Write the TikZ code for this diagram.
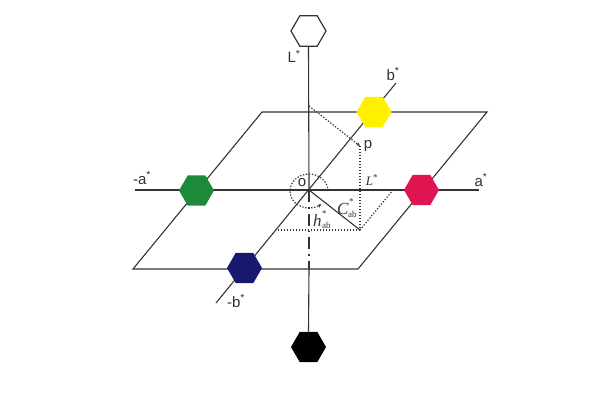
\documentclass[tikz,border=0pt]{standalone}
\usepackage{fontspec}
\setmainfont{Liberation Serif}
\setsansfont{Liberation Sans}
\usetikzlibrary{shapes.geometric,arrows.meta,calc}
\definecolor{hgreen}{HTML}{1C8A3A}
\definecolor{hred}{HTML}{DE1550}
\definecolor{hyellow}{HTML}{FFF000}
\definecolor{hblue}{HTML}{16196E}
\definecolor{axgray}{HTML}{333333}
\begin{document}
\begin{tikzpicture}[x=1pt,y=-1pt,
  axis/.style={draw=axgray, line width=1.1pt},
  dots/.style={draw=axgray, line width=1.2pt, dash pattern=on 1.3pt off 1.7pt},
  hexa/.style={regular polygon, regular polygon sides=6, minimum size=35pt, inner sep=0pt},
  lab/.style={font=\sffamily\fontsize{15}{15}\selectfont, inner sep=0pt, text=axgray},
  mlab/.style={font=\fontsize{13}{13}\selectfont, inner sep=0pt, text=axgray},
  blab/.style={font=\fontsize{17}{17}\selectfont\itshape, inner sep=0pt, text=axgray, anchor=base west},
  slab/.style={font=\fontsize{9}{9}\selectfont, inner sep=0pt, text=axgray, anchor=base west}]
\useasboundingbox (0,0) rectangle (600,400);
% coordinates
\coordinate (O) at (309,190);
\coordinate (P1) at (133,269);
\coordinate (P2) at (358,269);
\coordinate (P3) at (487,112);
\coordinate (P4) at (262,112);
\coordinate (Aend) at (479,190);
\coordinate (Aneg) at (135,190);
\coordinate (Bend) at (396,83);
\coordinate (Bneg) at (216,303);
\coordinate (F) at (309,269);
\coordinate (Lp) at (309,106);
\coordinate (p) at (360,146);
\coordinate (Q) at (360,230);
\coordinate (Qb) at (276,230);
\coordinate (Qa) at (393,190);
% plane
\draw[axis] (P1) -- (P2) -- (P3) -- (P4) -- cycle;
% axes
\draw[axis] (Aneg) -- (Aend);
\draw[axis] (Bneg) -- (Bend);
\node[hexa, fill=white, draw=axgray, line width=1.2pt] (W) at (308.5,31) {};
\node[hexa, fill=black] (K) at (308.5,347) {};
\draw[axis] (W.south) -- (O);
\draw[axis, dash pattern=on 12pt off 5pt on 1.5pt off 5pt] (O) -- (F);
\draw[axis] (F) -- (K.north);
% dotted construction
\draw[dots, -{Stealth[length=4pt,width=3.5pt]}] (Lp) -- (p);
\draw[dots] (p) -- (Q);
\draw[dots] (Q) -- (Qb);
\draw[dots] (Q) -- (Qa);
\draw[axis] (O) -- (Q);
\draw[dots, -{Stealth[length=4pt,width=3.5pt]}] ($(O)+(19,1)$) arc[start angle=0, end angle=-310, x radius=19, y radius=17];
% coloured hexagons
\node[hexa, fill=hgreen] (G) at (196.5,190.5) {};
\node[hexa, fill=hred] (R) at (421.5,190) {};
\node[hexa, fill=hyellow] (Y) at (374,112) {};
\node[hexa, fill=hblue] (Bl) at (244.5,268) {};
% labels
\node[lab] (lL) at (294,56) {L\textsuperscript{*}};
\node[lab] (lna) at (142,178) {-a\textsuperscript{*}};
\node[lab] (la) at (481,180) {a\textsuperscript{*}};
\node[lab] (lb) at (393,74) {b\textsuperscript{*}};
\node[lab] (lnb) at (236,301) {-b\textsuperscript{*}};
\node[lab] (lo) at (302,183) {o};
\node[lab] (lp) at (368,146) {p};
\node[mlab] (lLs) at (372,180) {\textit{L}\textsuperscript{*}};
% C*ab
\node[blab] (lC) at (337,214) {C};
\node[slab] (lCs) at (349,204) {*};
\node[slab] (lCa) at (348,217) {ab};
% h*ab
\node[blab] (lh) at (313,226) {h};
\node[slab] (lhs) at (322,216) {*};
\node[slab] (lha) at (322,228) {ab};
\end{tikzpicture}
\end{document}
